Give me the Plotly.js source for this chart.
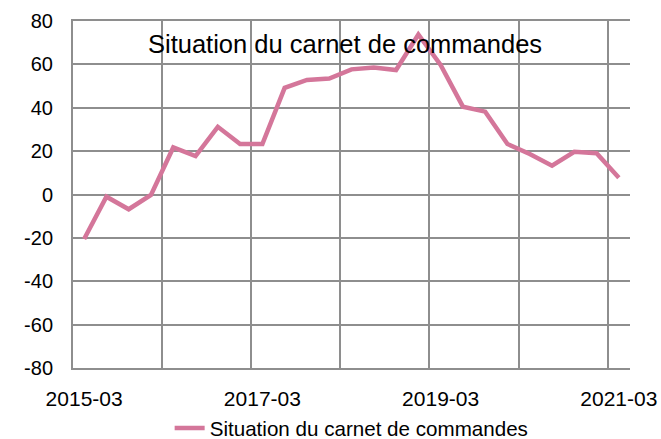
<!DOCTYPE html>
<html>
<head>
<meta charset="utf-8">
<script src="https://cdn.plot.ly/plotly-3.0.1.min.js"></script>
<style>html,body{margin:0;padding:0;background:#fff;}#chart{width:661px;height:439px;}</style>
</head>
<body>
<div id="chart"></div>
<script>
const quarters = ["2015-03","2015-06","2015-09","2015-12","2016-03","2016-06","2016-09","2016-12",
  "2017-03","2017-06","2017-09","2017-12","2018-03","2018-06","2018-09","2018-12",
  "2019-03","2019-06","2019-09","2019-12","2020-03","2020-06","2020-09","2020-12","2021-03"];
const values = [-20.5, -1, -6.8, -0.2, 21.7, 17.7, 31.2, 23.3, 23.3, 49.2, 52.8, 53.5, 57.7, 58.6, 57.4,
  73.8, 59.7, 40.5, 38.2, 23.3, 18.7, 13.3, 19.7, 19.0, 7.7];
const tickLabels = ["2015-03","2017-03","2019-03","2021-03"];
const yTickVals = [-80, -60, -40, -20, 0, 20, 40, 60, 80];
const yTickText = ["-80", "-60", "-40", "-20", "0", "20", "40", "60", "80"];
const seriesName = "Situation du carnet de commandes";

const xIdx = quarters.map((q, i) => i);
const tickPos = tickLabels.map(t => quarters.indexOf(t));
const gridCol = "#8e8e8e";
const font = "Liberation Sans, Arial, sans-serif";

const trace = {
  x: xIdx, y: values, type: "scatter", mode: "lines", name: seriesName,
  line: {color: "#D4769A", width: 4.5},
  text: quarters, hoverinfo: "text+y"
};

const layout = {
  width: 661, height: 439,
  margin: {l: 73, r: 31, t: 21, b: 71},
  paper_bgcolor: "#fff", plot_bgcolor: "#fff",
  font: {family: font, size: 20, color: "#000"},
  title: {text: seriesName, font: {family: font, size: 25.5, color: "#000"},
    xref: "container", x: 0.522, xanchor: "center", yref: "container", y: 1 - 44/439, yanchor: "middle"},
  xaxis: {
    range: [-0.5, quarters.length - 0.5],
    tickmode: "array", tickvals: tickPos, ticktext: tickLabels,
    showgrid: false, zeroline: false,
    showline: true, linecolor: gridCol, linewidth: 2, mirror: true,
    ticks: "", ticklabelstandoff: 11,
    minor: {tickmode: "linear", tick0: -0.5, dtick: 4, showgrid: true, gridcolor: gridCol, gridwidth: 2, ticks: ""},
    tickfont: {size: 21}
  },
  yaxis: {
    range: [-80, 80], tickmode: "array", tickvals: yTickVals, ticktext: yTickText,
    showgrid: true, gridcolor: gridCol, gridwidth: 2,
    zeroline: true, zerolinecolor: gridCol, zerolinewidth: 2,
    showline: true, linecolor: gridCol, linewidth: 2,
    ticks: "", ticklabelstandoff: 14,
    tickfont: {size: 20}
  },
  showlegend: true,
  legend: {orientation: "h", xref: "container", x: 0.532, xanchor: "center",
    yref: "container", y: 1 - 428/439, yanchor: "middle", font: {size: 20.6}, bgcolor: "rgba(0,0,0,0)"}
};

Plotly.newPlot("chart", [trace], layout, {displayModeBar: false, staticPlot: true});
</script>
</body>
</html>
